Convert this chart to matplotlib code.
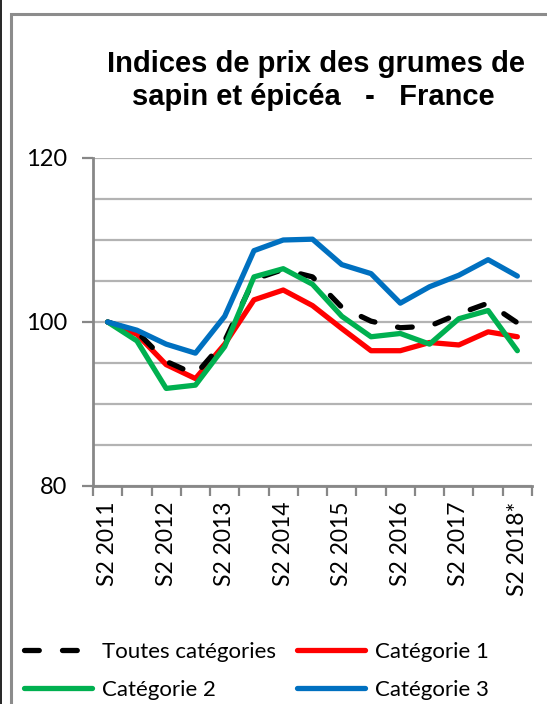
import matplotlib
matplotlib.use("Agg")
import matplotlib.pyplot as plt
from matplotlib.lines import Line2D
from matplotlib.patches import Rectangle
import numpy as np

W, H = 547, 704
DPI = 100

periods = ["S2 2011", "S1 2012", "S2 2012", "S1 2013", "S2 2013", "S1 2014", "S2 2014",
           "S1 2015", "S2 2015", "S1 2016", "S2 2016", "S1 2017", "S2 2017", "S1 2018", "S2 2018*"]
tick_labels = ["S2 2011", "S2 2012", "S2 2013", "S2 2014", "S2 2015", "S2 2016", "S2 2017", "S2 2018*"]

toutes = [100, 98.8, 95.2, 93.6, 97.7, 105.2, 106.4, 105.5, 101.8, 100.1, 99.3, 99.5, 101.0, 102.3, 99.9]
cat1 = [100, 98.5, 94.8, 93.1, 97.3, 102.7, 103.9, 102.0, 99.2, 96.5, 96.5, 97.5, 97.2, 98.8, 98.2]
cat2 = [100, 97.7, 91.9, 92.3, 97.0, 105.5, 106.5, 104.6, 100.7, 98.2, 98.6, 97.3, 100.4, 101.4, 96.5]
cat3 = [100, 99.0, 97.3, 96.2, 100.7, 108.7, 110.0, 110.1, 107.0, 105.9, 102.3, 104.3, 105.7, 107.6, 105.6]

plt.rcParams['font.family'] = ['Lato', 'DejaVu Sans']

fig = plt.figure(figsize=(W / DPI, H / DPI), dpi=DPI)
fig.patch.set_facecolor('white')

# frame decorations
fig.add_artist(Line2D([0.8 / W, 0.8 / W], [0, 1], transform=fig.transFigure, color='black', lw=1.2))
fig.add_artist(Rectangle((11.3 / W, -0.05), 1.2, 1 - 13.6 / H + 0.05, transform=fig.transFigure,
                         fill=False, edgecolor='#8c8c8c', lw=2.2))

left, right, top, bottom = 93, 532, 158, 486
ax = fig.add_axes([left / W, 1 - bottom / H, (right - left) / W, (bottom - top) / H])

x = np.arange(len(periods))
gray = '#878787'
ax.set_xlim(-0.5, len(periods) - 0.5)
ax.set_ylim(80, 120)
ax.set_yticks([80, 100, 120])
ax.set_yticks(np.arange(80, 121, 5), minor=True)
ax.grid(True, axis='y', which='both', color='#b3b3b3', lw=1.6, zorder=0)
ax.set_axisbelow(True)

ax.set_xticks(x[::2])
ax.set_xticklabels(tick_labels, rotation=90, va='top', ha='center', fontsize=16.5)
ax.set_xticks(np.arange(-0.5, len(periods), 1.0), minor=True)
ax.tick_params(axis='x', which='major', length=0, pad=11)
ax.tick_params(axis='x', which='minor', length=7, width=1.6, color=gray, direction='out')
ax.tick_params(axis='y', which='major', length=8, width=1.6, color=gray, labelsize=17, pad=10.5)
ax.tick_params(axis='y', which='minor', length=0)

for s in ['top', 'right']:
    ax.spines[s].set_visible(False)
for s in ['left', 'bottom']:
    ax.spines[s].set_color(gray)
    ax.spines[s].set_linewidth(2.0)

lw = 3.8
l0, = ax.plot(x, toutes, color='black', lw=lw, dashes=(2.8, 4.4), dash_capstyle='round',
              label='Toutes catégories', zorder=3)
l1, = ax.plot(x, cat1, color='#FF0000', lw=lw, label='Catégorie 1', zorder=2, solid_capstyle='round')
l2, = ax.plot(x, cat2, color='#00B050', lw=lw, label='Catégorie 2', zorder=4, solid_capstyle='round')
l3, = ax.plot(x, cat3, color='#0070C0', lw=lw, label='Catégorie 3', zorder=4, solid_capstyle='round')

fig.text(316 / W, 1 - 71.5 / H, "Indices de prix des grumes de",
         ha='center', va='baseline', fontsize=21, fontweight='bold', family='Liberation Sans')
fig.text(313 / W, 1 - 105 / H, "sapin et épicéa   -   France",
         ha='center', va='baseline', fontsize=21, fontweight='bold', family='Liberation Sans')

leg = fig.legend([l0, l2, l1, l3], ['Toutes catégories', 'Catégorie 2', 'Catégorie 1', 'Catégorie 3'],
                 ncol=2, loc='upper left', bbox_to_anchor=(24 / W, 1 - 642 / H),
                 frameon=False, fontsize=16, handlelength=3.05, handletextpad=0.45,
                 columnspacing=0.95, labelspacing=0.82, borderpad=0, borderaxespad=0)

fig.savefig('out.png', dpi=DPI, facecolor='white')
